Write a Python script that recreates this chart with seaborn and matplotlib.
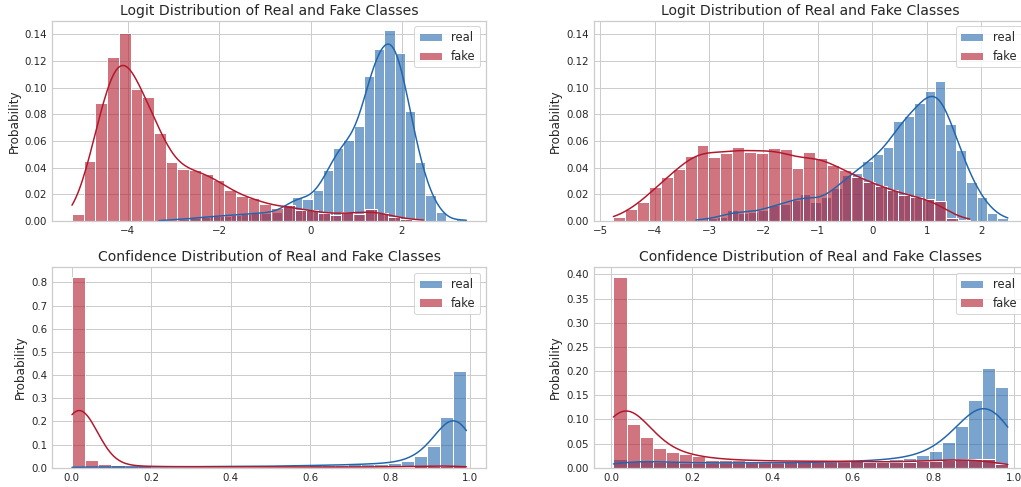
import numpy as np
import pandas as pd
import matplotlib
matplotlib.use("Agg")
import matplotlib.pyplot as plt
import seaborn as sns

# ---- Logit histograms (left model) : per-bin probabilities, 30 bins each ----
logit_a_real_range = (-3.32, 3.41)
logit_a_real = [0.0005, 0.001, 0.0015, 0.002, 0.003, 0.0035, 0.004, 0.0045, 0.005, 0.006,
                0.006, 0.007, 0.012, 0.0178, 0.0165, 0.0228, 0.038, 0.0545, 0.060, 0.071,
                0.108, 0.128, 0.142, 0.125, 0.082, 0.0438, 0.0195, 0.0065, 0.0, 0.0013]
logit_a_fake_range = (-5.22, 2.47)
logit_a_fake = [0.0053, 0.0445, 0.0878, 0.1228, 0.140, 0.0983, 0.0925, 0.0658, 0.0438, 0.039,
                0.0378, 0.0353, 0.0303, 0.0233, 0.0183, 0.017, 0.013, 0.010, 0.012, 0.008,
                0.008, 0.006, 0.0045, 0.007, 0.005, 0.0088, 0.006, 0.003, 0.0015, 0.001]

# ---- Logit histograms (right model) ----
logit_b_real_range = (-3.24, 2.49)
logit_b_real = [0.001, 0.002, 0.003, 0.008, 0.006, 0.007, 0.008, 0.012, 0.013, 0.016,
                0.020, 0.014, 0.018, 0.0245, 0.034, 0.036, 0.045, 0.050, 0.055, 0.0745,
                0.078, 0.088, 0.097, 0.1045, 0.072, 0.053, 0.029, 0.018, 0.006, 0.0025]
logit_b_fake_range = (-4.757, 1.789)
logit_b_fake = [0.0033, 0.009, 0.0143, 0.0253, 0.0328, 0.0393, 0.0488, 0.0568, 0.048, 0.0513,
                0.0558, 0.0518, 0.0513, 0.0545, 0.054, 0.040, 0.0518, 0.0475, 0.042, 0.038,
                0.033, 0.0295, 0.026, 0.023, 0.0195, 0.018, 0.0165, 0.015, 0.002, 0.001]

# ---- Confidence histograms (left model) ----
conf_a_range = (0.001, 0.992)
conf_a_real = [0.004, 0.003, 0.003, 0.003, 0.003, 0.003, 0.004, 0.004, 0.004, 0.004,
               0.005, 0.005, 0.005, 0.006, 0.006, 0.007, 0.008, 0.009, 0.010, 0.011,
               0.012, 0.014, 0.016, 0.018, 0.021, 0.029, 0.052, 0.0957, 0.222, 0.42]
conf_a_fake = [0.8275, 0.033, 0.016, 0.010, 0.007, 0.006, 0.005, 0.005, 0.004, 0.004,
               0.004, 0.004, 0.004, 0.004, 0.003, 0.003, 0.003, 0.003, 0.003, 0.003,
               0.003, 0.003, 0.003, 0.004, 0.004, 0.005, 0.006, 0.008, 0.009, 0.008]

# ---- Confidence histograms (right model) ----
conf_b_range = (0.005, 0.985)
conf_b_real = [0.018, 0.015, 0.013, 0.012, 0.012, 0.010, 0.010, 0.010, 0.010, 0.010,
               0.010, 0.010, 0.010, 0.011, 0.011, 0.011, 0.012, 0.012, 0.014, 0.0146,
               0.016, 0.018, 0.021, 0.026, 0.034, 0.053, 0.087, 0.14, 0.207, 0.169]
conf_b_fake = [0.397, 0.091, 0.063, 0.041, 0.032, 0.028, 0.024, 0.017, 0.016, 0.017,
               0.015, 0.014, 0.014, 0.014, 0.013, 0.013, 0.014, 0.015, 0.013, 0.012,
               0.011, 0.012, 0.012, 0.015, 0.014, 0.017, 0.018, 0.018, 0.019, 0.007]

LOGIT_TITLE = "Logit Distribution of Real and Fake Classes"
CONF_TITLE = "Confidence Distribution of Real and Fake Classes"
REAL_COLOR = "#2166ac"
FAKE_COLOR = "#b2182b"


def draw_pair(ax, real, fake, title):
    """real / fake: (bin probabilities, (low edge, high edge), kde bandwidth factor)."""
    for (vals, rng, bw), color, label in [(real, REAL_COLOR, "real"),
                                          (fake, FAKE_COLOR, "fake")]:
        edges = np.linspace(rng[0], rng[1], len(vals) + 1)
        df = pd.DataFrame({"value": (edges[:-1] + edges[1:]) / 2, "prob": vals})
        sns.histplot(data=df, x="value", weights="prob", bins=edges.tolist(),
                     stat="probability", kde=True, color=color, alpha=0.6,
                     label=label, ax=ax,
                     kde_kws=dict(bw_method=bw, cut=3,
                                  clip=(float(edges[0]), float(edges[-1]))),
                     line_kws=dict(linewidth=1.5))
    ax.set_title(title, fontsize=14)
    ax.set_ylabel("Probability", fontsize=12)
    ax.set_xlabel("")
    ax.tick_params(labelsize=10.3, length=0, pad=5.2)
    ax.legend(loc="upper right", fontsize=11.5)


sns.set_theme(style="whitegrid")
fig, axes = plt.subplots(2, 2, figsize=(1021 / 72, 487 / 72), dpi=72)
fig.subplots_adjust(left=0.0512, right=1.0064, bottom=0.0396, top=0.9575,
                    wspace=0.248, hspace=0.2317)

draw_pair(axes[0, 0], (logit_a_real, logit_a_real_range, 0.2),
          (logit_a_fake, logit_a_fake_range, 0.2), LOGIT_TITLE)
draw_pair(axes[0, 1], (logit_b_real, logit_b_real_range, 0.2),
          (logit_b_fake, logit_b_fake_range, 0.2), LOGIT_TITLE)
draw_pair(axes[1, 0], (conf_a_real, conf_a_range, 0.2),
          (conf_a_fake, conf_a_range, 0.125), CONF_TITLE)
draw_pair(axes[1, 1], (conf_b_real, conf_b_range, 0.2),
          (conf_b_fake, conf_b_range, 0.185), CONF_TITLE)

axes[0, 1].set_ylim(axes[0, 0].get_ylim())

fig.savefig("out.png", dpi=72)
